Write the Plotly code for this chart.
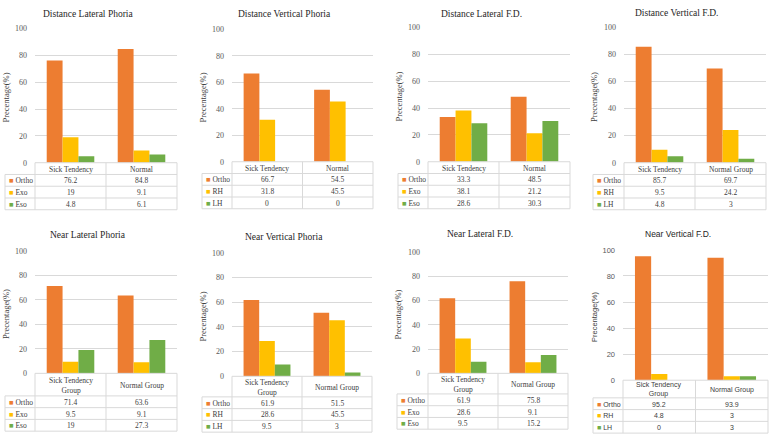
import plotly.graph_objects as go

# ---------------- data ----------------
titles = ["Distance Lateral Phoria", "Distance Vertical Phoria", "Distance Lateral F.D.",
          "Distance Vertical F.D.", "Near Lateral Phoria", "Near Vertical Phoria",
          "Near Lateral F.D.", "Near Vertical F.D."]

cats_p1 = ["Sick Tendency", "Normal"]
cats_p2 = ["Sick Tendency", "Normal"]
cats_p3 = ["Sick Tendency", "Normal"]
cats_p4 = ["Sick Tendency", "Normal Group"]
cats_bottom = ["Sick Tendency<br>Group", "Normal Group"]

names_lateral = ["Ortho", "Exo", "Eso"]
names_vertical = ["Ortho", "RH", "LH"]

dist_lat_phoria = [[76.2, 84.8], [19, 9.1], [4.8, 6.1]]
dist_vert_phoria = [[66.7, 54.5], [31.8, 45.5], [0, 0]]
dist_lat_fd = [[33.3, 48.5], [38.1, 21.2], [28.6, 30.3]]
dist_vert_fd = [[85.7, 69.7], [9.5, 24.2], [4.8, 3]]
near_lat_phoria = [[71.4, 63.6], [9.5, 9.1], [19, 27.3]]
near_vert_phoria = [[61.9, 51.5], [28.6, 45.5], [9.5, 3]]
near_lat_fd = [[61.9, 75.8], [28.6, 9.1], [9.5, 15.2]]
near_vert_fd = [[95.2, 93.9], [4.8, 3], [0, 3]]

y_ticks = [0, 20, 40, 60, 80, 100]
y_title = "Precentage(%)"

panels_data = [
    (cats_p1, names_lateral, dist_lat_phoria),
    (cats_p2, names_vertical, dist_vert_phoria),
    (cats_p3, names_lateral, dist_lat_fd),
    (cats_p4, names_vertical, dist_vert_fd),
    (cats_bottom, names_lateral, near_lat_phoria),
    (cats_bottom, names_vertical, near_vert_phoria),
    (cats_bottom, names_lateral, near_lat_fd),
    (cats_bottom, names_vertical, near_vert_fd),
]

# ---------------- layout geometry (pixels) ----------------
W, H = 773, 444
colors = ["#ED7D31", "#FFC000", "#70AD47"]
# x0, x1, y100, y0, table_left, header_h, title_y
geom = [
    (35, 177, 25, 162, 5, 12, 10),
    (232, 373, 26, 161, 202, 12, 10),
    (428, 570, 24, 161, 398, 12, 10),
    (624, 766, 24, 162, 593, 12, 9),
    (35, 177, 252, 377, 5, 23, 236),
    (232, 372, 254, 380, 202, 21, 238),
    (428, 568, 253, 377, 397, 21, 235),
    (623, 768, 251, 384, 593, 18, 235),
]
ROW_H = 12
serif = "Liberation Serif"
sans = "Liberation Sans"
line_col = "#D9D9D9"
txt_col = "#404040"


def px(x):
    return x / W


def py(y):
    return 1 - y / H


def fmt(v):
    return f"{v:g}"


fig = go.Figure()
shapes = []
annotations = []
layout = {}

for i, ((cats, names, vals), (x0, x1, yt, yb, tl, hh, ty)) in enumerate(zip(panels_data, geom)):
    n = i + 1
    xa = "x" if n == 1 else f"x{n}"
    ya = "y" if n == 1 else f"y{n}"
    fam = sans if n == 8 else serif
    for s, (nm, v) in enumerate(zip(names, vals)):
        fig.add_trace(go.Bar(x=cats, y=v, name=nm, marker=dict(color=colors[s], line=dict(width=0)),
                             xaxis=xa, yaxis=ya, showlegend=False))
    layout[f"xaxis{'' if n == 1 else n}"] = dict(
        domain=[px(x0), px(x1)], anchor=ya, showticklabels=False, showgrid=False,
        zeroline=False, showline=False, ticks="", fixedrange=True)
    layout[f"yaxis{'' if n == 1 else n}"] = dict(
        domain=[py(yb), py(yt)], anchor=xa, range=[0, 100], tickvals=y_ticks,
        showgrid=True, gridcolor=line_col, gridwidth=1, zeroline=False, showline=False,
        ticks="", ticklabelstandoff=7,
        tickfont=dict(family=fam, size=8 if n != 8 else 7.5, color="#595959"), fixedrange=True)

    # title
    annotations.append(dict(text=titles[i], x=px((x0 + x1) / 2 - 18), y=py(ty), xref="paper", yref="paper",
                            showarrow=False, xanchor="center", yanchor="middle",
                            font=dict(family=fam, size=9.5 if n != 8 else 8.5, color="#262626")))
    # y title
    annotations.append(dict(text=y_title, x=px(tl + 1), y=py((yt + yb) / 2 + 2), xref="paper", yref="paper",
                            showarrow=False, textangle=-90, xanchor="center", yanchor="middle",
                            font=dict(family=fam, size=8.5 if n != 8 else 7.5, color=txt_col)))

    # table lines
    xm = (x0 + x1) / 2
    hb = yb + hh
    bottom = hb + ROW_H * len(names)
    lines = [(x0, yb, x1, yb), (tl, hb, x1, hb)]
    for k in range(1, len(names) + 1):
        lines.append((tl, hb + ROW_H * k, x1, hb + ROW_H * k))
    lines += [(tl, hb, tl, bottom), (x0, yb, x0, bottom), (xm, yb, xm, bottom), (x1, yb, x1, bottom)]
    for (ax0, ay0, ax1, ay1) in lines:
        shapes.append(dict(type="line", xref="paper", yref="paper", x0=px(ax0), y0=py(ay0),
                           x1=px(ax1), y1=py(ay1), line=dict(color=line_col, width=1)))

    tfont = dict(family=fam, size=7.5 if n != 8 else 7, color=txt_col)
    # header
    for c in cats:
        annotations.append(dict(text=c, x=c, xref=xa, y=py(yb + hh / 2 + 0.5), yref="paper",
                                showarrow=False, xanchor="center", yanchor="middle", font=tfont))
    # rows
    for s, (nm, v) in enumerate(zip(names, vals)):
        ycen = py(hb + ROW_H * s + ROW_H / 2 + 0.5)
        annotations.append(dict(text=f"<span style='color:{colors[s]}'>■</span> {nm}", x=px(tl + 2), y=ycen,
                                xref="paper", yref="paper", showarrow=False, xanchor="left",
                                yanchor="middle", font=tfont))
        for c, val in zip(cats, v):
            annotations.append(dict(text=fmt(val), x=c, xref=xa, y=ycen, yref="paper", showarrow=False,
                                    xanchor="center", yanchor="middle", font=tfont))

fig.update_layout(**layout)
fig.update_layout(width=W, height=H, margin=dict(l=0, r=0, t=0, b=0), barmode="group",
                  bargap=0.33, bargroupgap=0, plot_bgcolor="white", paper_bgcolor="white",
                  shapes=shapes, annotations=annotations, showlegend=False)

fig.write_html("out.html", config={"displayModeBar": False})
